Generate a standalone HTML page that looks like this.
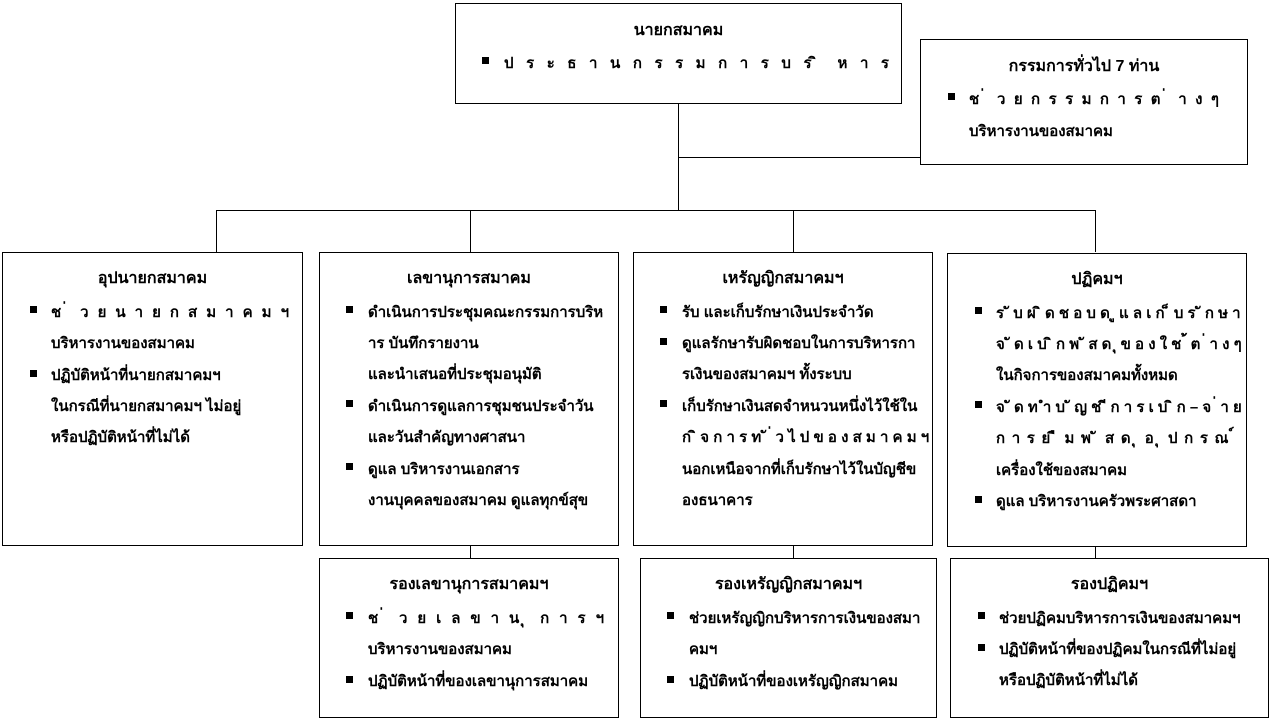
<!DOCTYPE html><html><head><meta charset="utf-8"><style>
body{margin:0;width:1271px;height:721px;background:#fff;position:relative;overflow:hidden;font-family:"Liberation Sans","DejaVu Sans",sans-serif;font-weight:bold;font-size:15px;color:#000}
.b{position:absolute;border:1px solid #000;box-sizing:border-box;background:#fff}
.t{position:absolute;left:0;right:0;text-align:center;font-size:16px;white-space:nowrap}
.l{position:absolute;white-space:nowrap}
.s{position:absolute;width:7px;height:7px;background:#000}
.j{text-align:justify;text-align-last:justify}
.h{position:absolute;background:#000;height:1px}
.v{position:absolute;background:#000;width:1px}
</style></head><body>
<div class="v" style="left:678px;top:103px;height:107px"></div>
<div class="h" style="left:678px;top:157px;width:242px"></div>
<div class="h" style="left:216px;top:210px;width:880px"></div>
<div class="v" style="left:216px;top:210px;height:42px"></div>
<div class="v" style="left:470px;top:210px;height:42px"></div>
<div class="v" style="left:793px;top:210px;height:42px"></div>
<div class="v" style="left:1095px;top:210px;height:42px"></div>
<div class="v" style="left:470px;top:545px;height:13px"></div>
<div class="v" style="left:793px;top:545px;height:13px"></div>
<div class="v" style="left:1095px;top:545px;height:13px"></div>

<div class="b" style="left:455px;top:3px;width:447px;height:101px">
<div class="t" style="top:14px">นายกสมาคม</div>
<div class="s" style="left:26px;top:53px"></div><div class="l j" style="left:48px;top:47px;width:385px">ป ร ะ ธ า น ก ร ร ม ก า ร บ ร ิ ห า ร</div></div>

<div class="b" style="left:920px;top:39px;width:328px;height:126px">
<div class="t" style="top:14px">กรรมการทั่วไป 7 ท่าน</div>
<div class="s" style="left:27px;top:53px"></div><div class="l j" style="left:48px;top:47px;width:250px">ช ่ ว ย ก ร ร ม ก า ร ต ่ า ง ๆ</div>
<div class="l" style="left:48px;top:79px">บริหารงานของสมาคม</div></div>

<div class="b" style="left:2px;top:252px;width:301px;height:294px">
<div class="t" style="top:13px">อุปนายกสมาคม</div>
<div class="s" style="left:27px;top:53px"></div><div class="l j" style="left:48px;top:47px;width:238px">ช ่ ว ย น า ย ก ส ม า ค ม ฯ</div>
<div class="l" style="left:48px;top:78px">บริหารงานของสมาคม</div>
<div class="s" style="left:27px;top:117px"></div><div class="l" style="left:48px;top:110px">ปฏิบัติหน้าที่นายกสมาคมฯ</div>
<div class="l" style="left:48px;top:141px">ในกรณีที่นายกสมาคมฯ ไม่อยู่</div>
<div class="l" style="left:48px;top:172px">หรือปฏิบัติหน้าที่ไม่ได้</div></div>

<div class="b" style="left:319px;top:252px;width:300px;height:294px">
<div class="t" style="top:13px">เลขานุการสมาคม</div>
<div class="s" style="left:26px;top:53px"></div><div class="l" style="left:48px;top:47px">ดำเนินการประชุมคณะกรรมการบริห</div>
<div class="l" style="left:48px;top:78px">าร บันทึกรายงาน</div>
<div class="l" style="left:48px;top:109px">และนำเสนอที่ประชุมอนุมัติ</div>
<div class="s" style="left:26px;top:147px"></div><div class="l" style="left:48px;top:141px">ดำเนินการดูแลการชุมชนประจำวัน</div>
<div class="l" style="left:48px;top:172px">และวันสำคัญทางศาสนา</div>
<div class="s" style="left:26px;top:210px"></div><div class="l" style="left:48px;top:204px">ดูแล บริหารงานเอกสาร</div>
<div class="l" style="left:48px;top:235px">งานบุคคลของสมาคม ดูแลทุกข์สุข</div></div>

<div class="b" style="left:633px;top:252px;width:300px;height:294px">
<div class="t" style="top:13px">เหรัญญิกสมาคมฯ</div>
<div class="s" style="left:26px;top:53px"></div><div class="l" style="left:48px;top:47px">รับ และเก็บรักษาเงินประจำวัด</div>
<div class="s" style="left:26px;top:85px"></div><div class="l" style="left:48px;top:78px">ดูแลรักษารับผิดชอบในการบริหารกา</div>
<div class="l" style="left:48px;top:109px">รเงินของสมาคมฯ ทั้งระบบ</div>
<div class="s" style="left:26px;top:147px"></div><div class="l" style="left:48px;top:141px">เก็บรักษาเงินสดจำหนวนหนึ่งไว้ใช้ใน</div>
<div class="l j" style="left:48px;top:172px;width:240px">ก ิ จ ก า ร ท ั ่ ว ไ ป ข อ ง ส ม า ค ม ฯ</div>
<div class="l" style="left:48px;top:204px">นอกเหนือจากที่เก็บรักษาไว้ในบัญชีข</div>
<div class="l" style="left:48px;top:235px">องธนาคาร</div></div>

<div class="b" style="left:947px;top:253px;width:300px;height:294px">
<div class="t" style="top:13px">ปฏิคมฯ</div>
<div class="s" style="left:27px;top:53px"></div><div class="l j" style="left:48px;top:47px;width:240px">ร ั บ ผ ิ ด ช อ บ ด ู แ ล เ ก ็ บ ร ั ก ษ า</div>
<div class="l j" style="left:48px;top:78px;width:240px">จ ั ด เ บ ิ ก พ ั ส ด ุ ข อ ง ใ ช ้ ต ่ า ง ๆ</div>
<div class="l" style="left:48px;top:109px">ในกิจการของสมาคมทั้งหมด</div>
<div class="s" style="left:27px;top:147px"></div><div class="l j" style="left:48px;top:141px;width:240px">จ ั ด ท ำ บ ั ญ ช ี ก า ร เ บ ิ ก – จ ่ า ย</div>
<div class="l j" style="left:48px;top:172px;width:240px">ก า ร ย ื ม พ ั ส ด ุ อ ุ ป ก ร ณ ์</div>
<div class="l" style="left:48px;top:204px">เครื่องใช้ของสมาคม</div>
<div class="s" style="left:27px;top:242px"></div><div class="l" style="left:48px;top:235px">ดูแล บริหารงานครัวพระศาสดา</div></div>

<div class="b" style="left:319px;top:558px;width:300px;height:160px">
<div class="t" style="top:13px">รองเลขานุการสมาคมฯ</div>
<div class="s" style="left:26px;top:53px"></div><div class="l j" style="left:48px;top:47px;width:236px">ช ่ ว ย เ ล ข า น ุ ก า ร ฯ</div>
<div class="l" style="left:48px;top:78px">บริหารงานของสมาคม</div>
<div class="s" style="left:26px;top:117px"></div><div class="l" style="left:48px;top:110px">ปฏิบัติหน้าที่ของเลขานุการสมาคม</div></div>

<div class="b" style="left:640px;top:558px;width:297px;height:160px">
<div class="t" style="top:13px">รองเหรัญญิกสมาคมฯ</div>
<div class="s" style="left:26px;top:53px"></div><div class="l" style="left:48px;top:47px">ช่วยเหรัญญิกบริหารการเงินของสมา</div>
<div class="l" style="left:48px;top:78px">คมฯ</div>
<div class="s" style="left:26px;top:117px"></div><div class="l" style="left:48px;top:110px">ปฏิบัติหน้าที่ของเหรัญญิกสมาคม</div></div>

<div class="b" style="left:950px;top:558px;width:319px;height:160px">
<div class="t" style="top:13px">รองปฏิคมฯ</div>
<div class="s" style="left:27px;top:53px"></div><div class="l" style="left:48px;top:47px">ช่วยปฏิคมบริหารการเงินของสมาคมฯ</div>
<div class="s" style="left:27px;top:85px"></div><div class="l" style="left:48px;top:78px">ปฏิบัติหน้าที่ของปฏิคมในกรณีที่ไม่อยู่</div>
<div class="l" style="left:48px;top:109px">หรือปฏิบัติหน้าที่ไม่ได้</div></div>
</body></html>
